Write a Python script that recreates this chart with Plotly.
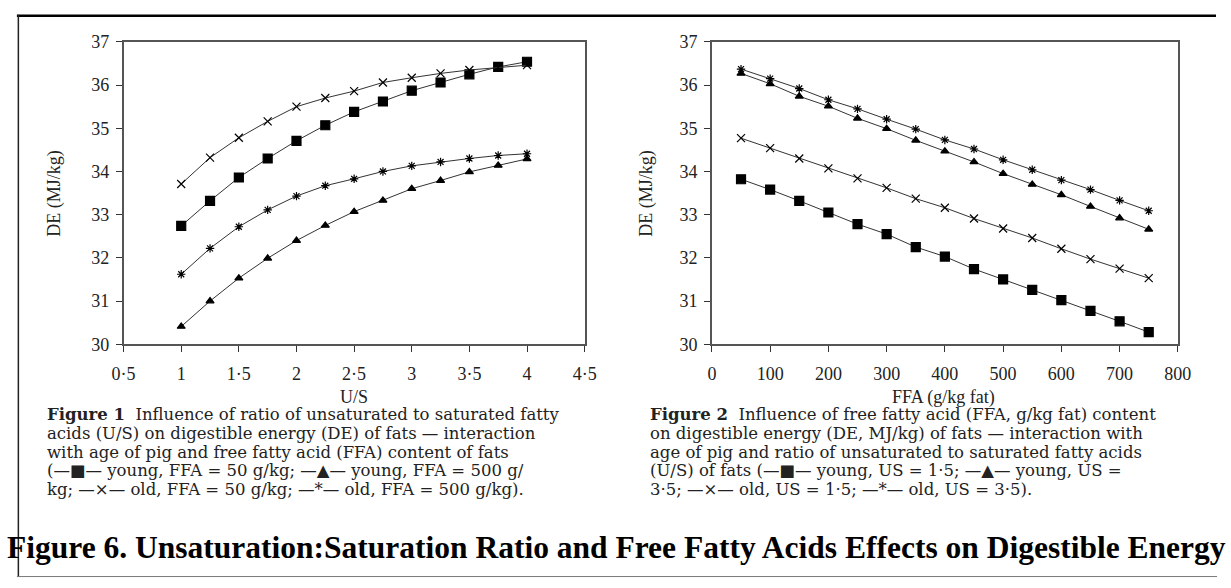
import plotly.graph_objects as go

W, H = 1231, 588

# ---------------- data ----------------
us_ratio = [1.0, 1.25, 1.5, 1.75, 2.0, 2.25, 2.5, 2.75, 3.0, 3.25, 3.5, 3.75, 4.0]
f1_young_ffa50 = [32.74, 33.32, 33.86, 34.30, 34.71, 35.07, 35.38, 35.62, 35.87, 36.06, 36.25, 36.42, 36.54]
f1_young_ffa500 = [30.41, 31.00, 31.53, 31.99, 32.40, 32.75, 33.07, 33.33, 33.60, 33.79, 33.99, 34.14, 34.29]
f1_old_ffa50 = [33.71, 34.32, 34.78, 35.16, 35.50, 35.70, 35.86, 36.06, 36.17, 36.27, 36.35, 36.41, 36.46]
f1_old_ffa500 = [31.62, 32.22, 32.72, 33.11, 33.43, 33.67, 33.83, 34.00, 34.13, 34.22, 34.30, 34.37, 34.41]

ffa = [50, 100, 150, 200, 250, 300, 350, 400, 450, 500, 550, 600, 650, 700, 750]
f2_young_us15 = [33.82, 33.58, 33.32, 33.05, 32.78, 32.55, 32.25, 32.03, 31.74, 31.50, 31.26, 31.02, 30.77, 30.53, 30.28]
f2_young_us35 = [36.27, 36.03, 35.74, 35.51, 35.23, 34.99, 34.72, 34.47, 34.22, 33.95, 33.70, 33.46, 33.19, 32.92, 32.66]
f2_old_us15 = [34.77, 34.54, 34.30, 34.07, 33.84, 33.62, 33.37, 33.16, 32.91, 32.68, 32.46, 32.21, 31.97, 31.75, 31.53]
f2_old_us35 = [36.37, 36.15, 35.92, 35.66, 35.45, 35.21, 34.98, 34.73, 34.52, 34.27, 34.04, 33.80, 33.58, 33.33, 33.09]

x1_ticks = [0.5, 1, 1.5, 2, 2.5, 3, 3.5, 4, 4.5]
x1_labels = ["0·5", "1", "1·5", "2", "2·5", "3", "3·5", "4", "4·5"]
x2_ticks = [0, 100, 200, 300, 400, 500, 600, 700, 800]
y_ticks = [30, 31, 32, 33, 34, 35, 36, 37]

caption1 = [
    "<b>Figure 1</b>  Influence of ratio of unsaturated to saturated fatty",
    "acids (U/S) on digestible energy (DE) of fats — interaction",
    "with age of pig and free fatty acid (FFA) content of fats",
    "(—■— young, FFA = 50 g/kg; —▲— young, FFA = 500 g/",
    "kg; —×— old, FFA = 50 g/kg; —*— old, FFA = 500 g/kg).",
]
caption2 = [
    "<b>Figure 2</b>  Influence of free fatty acid (FFA, g/kg fat) content",
    "on digestible energy (DE, MJ/kg) of fats — interaction with",
    "age of pig and ratio of unsaturated to saturated fatty acids",
    "(U/S) of fats (—■— young, US = 1·5; —▲— young, US =",
    "3·5; —×— old, US = 1·5; —*— old, US = 3·5).",
]
main_title = "Figure 6. Unsaturation:Saturation Ratio and Free Fatty Acids Effects on Digestible Energy"

# ---------------- helpers ----------------
def px(x):
    return x / W

def py(y):
    return 1 - y / H

SERIF = "Liberation Serif"
LINE = dict(color="#333333", width=1)

fig = go.Figure()

def add(xs, ys, sym, size, xa, ya):
    fig.add_trace(go.Scatter(
        x=xs, y=ys, mode="lines+markers", xaxis=xa, yaxis=ya,
        line=LINE,
        marker=dict(symbol=sym, size=size, color="black",
                    line=dict(color="black", width=1.2)),
        showlegend=False, hoverinfo="skip"))

add(us_ratio, f1_young_ffa50, "square", 9, "x", "y")
add(us_ratio, f1_young_ffa500, "triangle-up", 7, "x", "y")
add(us_ratio, f1_old_ffa50, "x-thin-open", 8, "x", "y")
add(us_ratio, f1_old_ffa500, "asterisk-open", 7, "x", "y")

add(ffa, f2_young_us15, "square", 9, "x2", "y2")
add(ffa, f2_young_us35, "triangle-up", 7, "x2", "y2")
add(ffa, f2_old_us15, "x-thin-open", 8, "x2", "y2")
add(ffa, f2_old_us35, "asterisk-open", 7, "x2", "y2")

axis_common = dict(
    showline=True, linecolor="#555555", linewidth=1.5, mirror=True,
    showgrid=False, zeroline=False, ticks="outside", ticklen=6,
    tickcolor="#333333", tickwidth=1,
    tickfont=dict(family=SERIF, size=18, color="#222222"),
)
xaxis_extra = dict(ticklabelstandoff=6)
yaxis_extra = dict(ticklabelstandoff=3)

fig.update_layout(
    width=W, height=H, autosize=False,
    margin=dict(l=0, r=0, t=0, b=0),
    paper_bgcolor="white", plot_bgcolor="white",
    xaxis=dict(domain=[px(114), px(585)], range=[0.5, 4.5],
               tickvals=x1_ticks, ticktext=x1_labels, anchor="y",
               **axis_common, **xaxis_extra),
    yaxis=dict(domain=[py(346), py(33)], range=[30, 37], tickvals=y_ticks,
               anchor="x", **axis_common, **yaxis_extra),
    xaxis2=dict(domain=[px(715), px(1191)], range=[0, 800],
                tickvals=x2_ticks, anchor="y2", **axis_common, **xaxis_extra),
    yaxis2=dict(domain=[py(346), py(33)], range=[30, 37], tickvals=y_ticks,
                anchor="x2", **axis_common, **yaxis_extra),
)

ann = []
ann.append(dict(text="DE (MJ/kg)", x=px(43), y=py(190), textangle=-90))
ann.append(dict(text="U/S", x=px(349), y=py(401)))
ann.append(dict(text="DE (MJ/kg)", x=px(648), y=py(190), textangle=-90))
ann.append(dict(text="FFA (g/kg fat)", x=px(952), y=py(401)))
for a in ann:
    a.update(xref="paper", yref="paper", showarrow=False,
             xanchor="center", yanchor="middle",
             font=dict(family=SERIF, size=18, color="#222222"))

cap_y0, cap_dy = 419, 19.3
cap_font = dict(family="DejaVu Serif", size=16.5, color="#222222")
for i, line in enumerate(caption1):
    ann.append(dict(text=line, x=px(34), y=py(cap_y0 + i * cap_dy),
                    xref="paper", yref="paper", showarrow=False,
                    xanchor="left", yanchor="middle", font=cap_font))
for i, line in enumerate(caption2):
    ann.append(dict(text=line, x=px(650), y=py(cap_y0 + i * cap_dy),
                    xref="paper", yref="paper", showarrow=False,
                    xanchor="left", yanchor="middle", font=cap_font))

ann.append(dict(text="<b>" + main_title + "</b>", x=px(618), y=py(556),
                xref="paper", yref="paper", showarrow=False,
                xanchor="center", yanchor="middle",
                font=dict(family=SERIF, size=31.5, color="black")))
fig.update_layout(annotations=ann)

# outer frame
fig.add_shape(type="line", xref="paper", yref="paper",
              x0=px(5), x1=px(1230), y0=py(6), y1=py(6),
              line=dict(color="black", width=2.5))
fig.add_shape(type="line", xref="paper", yref="paper",
              x0=px(6.5), x1=px(6.5), y0=py(5), y1=py(587),
              line=dict(color="#222222", width=1.5))
fig.add_shape(type="line", xref="paper", yref="paper",
              x0=px(5), x1=px(1231), y0=py(586.5), y1=py(586.5),
              line=dict(color="#777777", width=1))

fig.write_html("out.html")
